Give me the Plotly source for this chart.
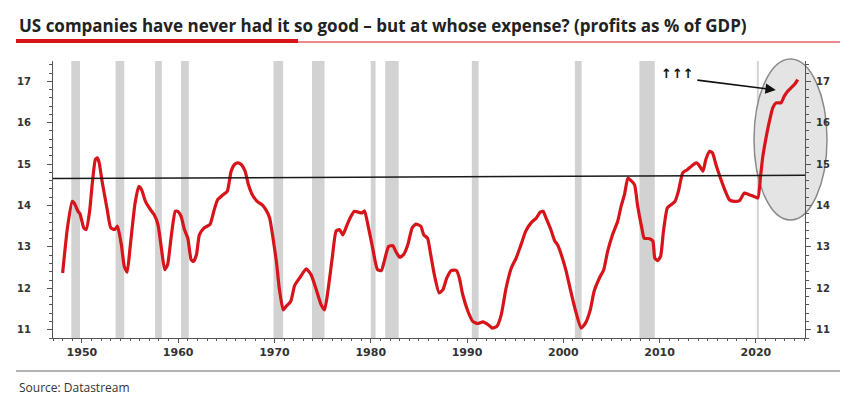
import plotly.graph_objects as go

# ---------------- data ----------------
years = [1948.0, 1948.5, 1949.0, 1949.2, 1949.6, 1949.8, 1950.2, 1950.45, 1950.8, 1951.1,
         1951.4, 1951.6, 1951.8, 1952.1, 1952.6, 1953.0, 1953.4, 1953.7, 1954.1, 1954.4,
         1954.7, 1955.0, 1955.5, 1955.9, 1956.2, 1956.6, 1957.0, 1957.5, 1957.9, 1958.3,
         1958.6, 1958.9, 1959.3, 1959.7, 1959.95, 1960.3, 1960.65, 1961.0, 1961.35, 1961.6,
         1961.9, 1962.2, 1962.7, 1963.3, 1963.7, 1964.1, 1964.65, 1965.1, 1965.5, 1965.85,
         1966.2, 1966.55, 1966.95, 1967.3, 1967.7, 1968.2, 1968.7, 1969.1, 1969.5, 1969.85,
         1970.2, 1970.5, 1970.9, 1971.2, 1971.7, 1972.1, 1972.7, 1973.3, 1973.8, 1974.3,
         1974.85, 1975.2, 1975.5, 1976.0, 1976.4, 1976.75, 1977.1, 1977.55, 1977.95, 1978.3,
         1978.7, 1979.1, 1979.35, 1979.7, 1980.2, 1980.7, 1981.1, 1981.4, 1981.85, 1982.3,
         1982.6, 1983.0, 1983.4, 1983.85, 1984.3, 1984.7, 1985.2, 1985.5, 1985.9, 1986.2,
         1986.6, 1987.1, 1987.5, 1987.9, 1988.35, 1988.9, 1989.2, 1989.55, 1990.1, 1990.6,
         1991.1, 1991.65, 1992.2, 1992.6, 1993.1, 1993.55, 1994.05, 1994.6, 1995.1, 1995.6,
         1996.1, 1996.65, 1997.2, 1997.6, 1997.9, 1998.2, 1998.7, 1999.1, 1999.4, 1999.85,
         2000.3, 2000.7, 2001.2, 2001.85, 2002.3, 2002.8, 2003.2, 2003.75, 2004.2, 2004.6,
         2005.1, 2005.65, 2006.0, 2006.35, 2006.7, 2006.95, 2007.4, 2007.7, 2008.15, 2008.4,
         2008.95, 2009.3, 2009.5, 2009.8, 2010.1, 2010.4, 2010.8, 2011.2, 2011.6, 2011.95,
         2012.4, 2012.85, 2013.3, 2013.8, 2014.05, 2014.5, 2014.8, 2015.2, 2015.5, 2015.85,
         2016.2, 2016.7, 2017.25, 2017.75, 2018.3, 2018.8, 2019.3, 2019.8, 2020.2, 2020.5,
         2020.7, 2021.05, 2021.4, 2021.75, 2022.1, 2022.6, 2022.95, 2023.3, 2023.65, 2024.0,
         2024.35]
profits_pct_gdp = [12.37, 13.46, 14.10, 14.06, 13.86, 13.80, 13.46, 13.42, 13.86, 14.58,
                   15.11, 15.15, 15.03, 14.58, 13.94, 13.46, 13.42, 13.50, 13.05, 12.53,
                   12.39, 12.97, 14.02, 14.46, 14.38, 14.10, 13.94, 13.78, 13.54, 12.89,
                   12.45, 12.57, 13.29, 13.86, 13.86, 13.74, 13.42, 13.21, 12.69, 12.65,
                   12.81, 13.29, 13.46, 13.54, 13.86, 14.14, 14.26, 14.34, 14.83, 14.99,
                   15.03, 14.99, 14.83, 14.50, 14.26, 14.10, 14.02, 13.90, 13.70, 13.21,
                   12.65, 12.00, 11.48, 11.56, 11.69, 12.07, 12.28, 12.47, 12.33, 12.00,
                   11.60, 11.48, 11.85, 12.73, 13.38, 13.42, 13.29, 13.54, 13.74, 13.86,
                   13.84, 13.82, 13.87, 13.54, 12.97, 12.45, 12.43, 12.65, 13.01, 13.03,
                   12.89, 12.75, 12.81, 13.05, 13.46, 13.55, 13.50, 13.29, 13.21, 12.85,
                   12.33, 11.89, 11.97, 12.25, 12.43, 12.43, 12.25, 11.85, 11.44, 11.20,
                   11.15, 11.19, 11.12, 11.04, 11.08, 11.36, 12.00, 12.49, 12.73, 13.05,
                   13.38, 13.58, 13.70, 13.84, 13.86, 13.70, 13.42, 13.15, 13.05, 12.77,
                   12.41, 12.00, 11.52, 11.04, 11.16, 11.48, 11.93, 12.25, 12.45, 12.89,
                   13.29, 13.62, 13.98, 14.26, 14.66, 14.62, 14.50, 14.02, 13.46, 13.21,
                   13.20, 13.14, 12.73, 12.67, 12.77, 13.38, 13.94, 14.02, 14.10, 14.34,
                   14.79, 14.86, 14.95, 15.03, 14.99, 14.83, 15.11, 15.31, 15.27, 14.99,
                   14.74, 14.42, 14.14, 14.10, 14.12, 14.30, 14.26, 14.22, 14.18, 14.74,
                   15.15, 15.63, 16.03, 16.36, 16.48, 16.48, 16.64, 16.76, 16.84, 16.92,
                   17.04]

recession_start = [1948.9, 1953.5, 1957.6, 1960.3, 1969.9, 1973.9, 1980.0, 1981.5, 1990.5, 2001.2, 2007.9, 2020.1]
recession_end = [1949.8, 1954.4, 1958.3, 1961.1, 1970.9, 1975.2, 1980.5, 1982.9, 1991.2, 2001.9, 2009.5, 2020.3]

average_x = [1947.0, 2025.1]
average_y = [14.65, 14.73]

x_tick_years = [1950, 1960, 1970, 1980, 1990, 2000, 2010, 2020]
y_tick_values = [11, 12, 13, 14, 15, 16, 17]

title_text = "US companies have never had it so good \u2013 but at whose expense? (profits as % of GDP)"
source_text = "Source: Datastream"
callout_text = "\u2191\u2191\u2191"

# ---------------- layout geometry ----------------
W, H = 848, 395
ML, MR, MT, MB = 45, 51, 53, 65
PW, PH = W - ML - MR, H - MT - MB
X_RANGE = [1947.0, 2025.1]
Y_RANGE = [10.80, 17.49]


def px_x(px):
    return (px - ML) / PW


def px_y(py):
    return (H - MB - py) / PH


RED = "#d7141a"
AX = "#555555"
TICKFONT = dict(family="DejaVu Sans", size=10, color="#333333", weight="bold")

fig = go.Figure()

fig.add_trace(go.Scatter(
    x=years, y=profits_pct_gdp, mode="lines",
    line=dict(color=RED, width=3.2, shape="spline", smoothing=0.5),
    hoverinfo="skip", showlegend=False, yaxis="y"))

fig.add_trace(go.Scatter(
    x=average_x, y=average_y, mode="lines",
    line=dict(color="#1a1a1a", width=1.5),
    hoverinfo="skip", showlegend=False, yaxis="y2"))

shapes = []
for s, e in zip(recession_start, recession_end):
    shapes.append(dict(type="rect", xref="x", yref="paper", x0=s, x1=e, y0=0, y1=1,
                       fillcolor="#d2d2d2", line=dict(width=0), layer="below"))

# highlight ellipse (decoration, extends past the right axis)
shapes.append(dict(type="circle", xref="paper", yref="paper",
                   x0=px_x(746), x1=px_x(819), y0=px_y(212), y1=px_y(51),
                   fillcolor="#e4e4e4", line=dict(color="#8a8a8a", width=1.5), layer="below"))

# title underline (thick red + thin red)
shapes.append(dict(type="line", xref="paper", yref="paper",
                   x0=px_x(8), x1=px_x(835), y0=px_y(34), y1=px_y(34),
                   line=dict(color=RED, width=1.2)))
shapes.append(dict(type="line", xref="paper", yref="paper",
                   x0=px_x(8), x1=px_x(290), y0=px_y(33), y1=px_y(33),
                   line=dict(color=RED, width=4)))
# footer separator
shapes.append(dict(type="line", xref="paper", yref="paper",
                   x0=px_x(8), x1=px_x(836), y0=px_y(363), y1=px_y(363),
                   line=dict(color="#9a9a9a", width=1.5)))

annotations = [
    dict(text=f"<b>{title_text}</b>", xref="paper", yref="paper",
         x=px_x(9), y=px_y(18), xanchor="left", yanchor="middle", showarrow=False,
         font=dict(family="Open Sans", size=17, color="#222222")),
    dict(text=source_text, xref="paper", yref="paper",
         x=px_x(9), y=px_y(379), xanchor="left", yanchor="middle", showarrow=False,
         font=dict(family="Open Sans", size=12, color="#333333")),
    dict(text=f"<b>{callout_text}</b>", x=2011.9, y=17.2, xref="x", yref="y",
         showarrow=False, font=dict(family="DejaVu Sans", size=13, color="#111111")),
    dict(text="", x=2022.07, y=16.79, xref="x", yref="y", ax=-80, ay=-10,
         showarrow=True, arrowhead=2, arrowsize=1.3, arrowwidth=1.6, arrowcolor="#111111"),
]

axis_common = dict(showgrid=False, zeroline=False, showline=True, linecolor=AX, linewidth=1,
                   ticks="outside", tickcolor=AX, tickfont=TICKFONT, automargin=False)

fig.update_layout(
    width=W, height=H,
    margin=dict(l=ML, r=MR, t=MT, b=MB, autoexpand=False),
    paper_bgcolor="white", plot_bgcolor="white",
    shapes=shapes, annotations=annotations,
    xaxis=dict(range=X_RANGE, tickmode="array", tickvals=x_tick_years,
               ticktext=[str(v) for v in x_tick_years], ticklen=4,
               minor=dict(tickmode="linear", tick0=1947, dtick=1, ticklen=2, ticks="outside", tickcolor=AX),
               tickfont=dict(family="DejaVu Sans", size=11, color="#333333", weight="bold"),
               **{k: v for k, v in axis_common.items() if k != "tickfont"}),
    yaxis=dict(range=Y_RANGE, side="left", tickmode="array", tickvals=y_tick_values,
               ticktext=[str(v) for v in y_tick_values], ticklen=5, ticklabelstandoff=14,
               minor=dict(tickmode="linear", tick0=11, dtick=0.2, ticklen=3, ticks="outside", tickcolor=AX),
               **axis_common),
    yaxis2=dict(range=Y_RANGE, side="right", overlaying="y", matches="y", tickmode="array",
                tickvals=y_tick_values, ticktext=[str(v) for v in y_tick_values], ticklen=5,
                ticklabelstandoff=3,
                minor=dict(tickmode="linear", tick0=11, dtick=0.2, ticklen=3, ticks="outside", tickcolor=AX),
                **axis_common),
)

fig.write_html("out.html")
